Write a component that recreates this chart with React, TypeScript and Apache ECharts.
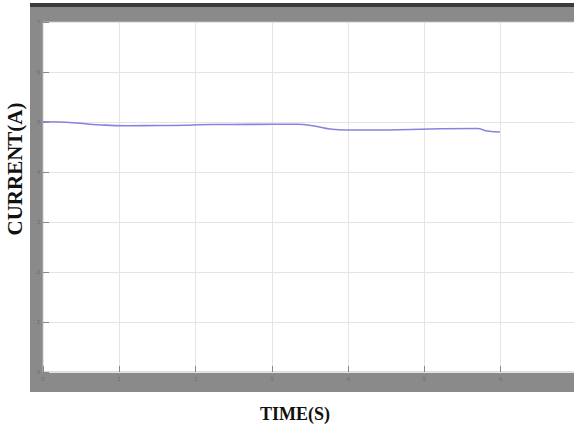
import React, { useEffect, useRef } from "react";
import * as echarts from "echarts";

const timeValues = [0, 0.22, 0.48, 0.71, 1.1, 1.53, 1.89, 2.02, 2.45, 3.01, 3.33, 3.56, 3.76, 3.98, 4.51, 5.07, 5.69, 5.82, 5.99];
const currentValues = [5.006, 5.0, 4.974, 4.946, 4.926, 4.93, 4.934, 4.946, 4.95, 4.954, 4.954, 4.92, 4.86, 4.84, 4.84, 4.86, 4.87, 4.82, 4.8];
const xTicks = [0, 1, 2, 3, 4, 5, 6, 7];
const yTicks = [0, 1, 2, 3, 4, 5, 6, 7];
const xTitle = "TIME(S)";
const yTitle = "CURRENT(A)";

export default function App() {
  const ref = useRef<HTMLDivElement>(null);
  useEffect(() => {
    if (!ref.current) return;
    const chart = echarts.init(ref.current, null, { renderer: "svg" });
    const series = timeValues.map((t, i) => [t, currentValues[i]]);
    chart.setOption({
      animation: false,
      backgroundColor: "#ffffff",
      graphic: [
        { type: "rect", shape: { x: 30, y: 3, width: 544, height: 389 }, style: { fill: "#8a8a8a" }, z: -10 },
        { type: "rect", shape: { x: 30, y: 3, width: 544, height: 4 }, style: { fill: "#3c3c3c" }, z: -9 },
        {
          type: "text",
          x: 295,
          y: 414,
          style: { text: xTitle, font: "bold 18px 'Liberation Serif', serif", fill: "#111", align: "center", verticalAlign: "middle" },
        },
        {
          type: "text",
          x: 15,
          y: 169,
          rotation: Math.PI / 2,
          style: { text: yTitle, font: "bold 21px 'Liberation Serif', serif", fill: "#111", align: "center", verticalAlign: "middle" },
        },
      ],
      grid: {
        left: 43,
        top: 22,
        width: 534,
        height: 350,
        outerBoundsMode: "none",
        containLabel: false,
        show: true,
        backgroundColor: "#ffffff",
        borderColor: "#bbbbbb",
        borderWidth: 1,
      },
      xAxis: {
        type: "value",
        min: xTicks[0],
        max: xTicks[xTicks.length - 1],
        interval: 1,
        axisLine: { show: false },
        axisTick: { show: true, inside: true, length: 6, lineStyle: { color: "#888" } },
        axisLabel: { show: true, showMaxLabel: false, fontSize: 6, color: "#6e6e6e", margin: 4 },
        splitLine: { show: true, lineStyle: { color: "#e4e4e4", width: 1 } },
      },
      yAxis: {
        type: "value",
        min: yTicks[0],
        max: yTicks[yTicks.length - 1],
        interval: 1,
        axisLine: { show: false },
        axisTick: { show: true, inside: true, length: 6, lineStyle: { color: "#888" } },
        axisLabel: { show: true, fontSize: 6, color: "#6e6e6e", margin: 3 },
        splitLine: { show: true, lineStyle: { color: "#e4e4e4", width: 1 } },
      },
      series: [
        {
          type: "line",
          data: series,
          symbol: "none",
          smooth: true,
          lineStyle: { color: "#8783e0", width: 1.6 },
        },
      ],
    });
    return () => chart.dispose();
  }, []);
  return <div ref={ref} style={{ position: "absolute", left: 0, top: 0, width: 574, height: 433 }} />;
}
